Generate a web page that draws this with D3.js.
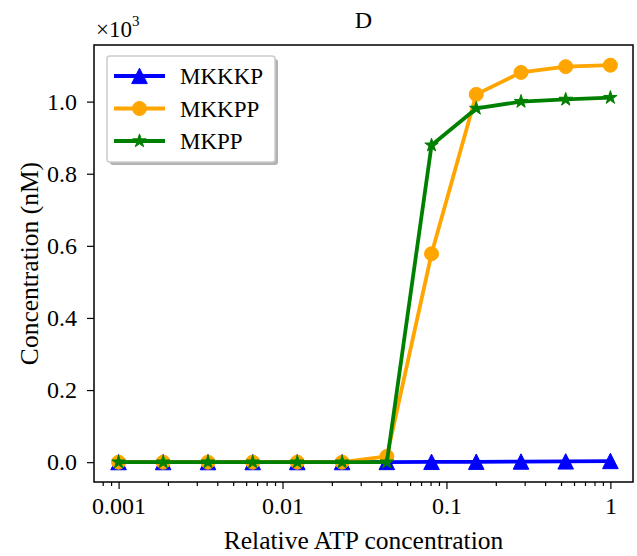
<!DOCTYPE html>
<html>

<head>
    <meta charset="UTF-8">
    <title>D</title>
    <style>
        body {
            margin: 0;
            background: #fff;
        }

        svg,
        svg text {
            font-family: "Liberation Serif", "DejaVu Serif", "Noto Serif", "Times New Roman", serif;
            fill: #000;
        }

        .axis path {
            display: none;
        }

        .axis line {
            stroke: #000;
            stroke-width: 1.2px;
        }

        .axis text {
            font-size: 24px;
        }

        .line {
            fill: none;
            stroke-width: 3.8px;
            stroke-linejoin: round;
        }
    </style>
</head>

<body>
    <div class="chart"></div>

    <script src="https://cdn.jsdelivr.net/npm/d3@7"></script>

    <script>
        // relative ATP concentration (12 points, log spaced 0.001 .. 1)
        const atp = [0.001, 0.00187, 0.00351, 0.00658, 0.0123, 0.0231,
            0.0433, 0.0811, 0.152, 0.285, 0.534, 1
        ];

        // concentrations in nM
        const mkkkp = [0, 0, 0, 0, 0, 0, 0.3, 0.6, 1, 1.5, 2, 3];
        const mkkpp = [0, 0, 0, 0, 0, 0, 16, 578, 1020, 1081, 1097, 1101];
        const mkpp = [0, 0, 0, 0, 0, 0, 0, 879, 981, 1000, 1006, 1011];

        const xTicks = [0.001, 0.01, 0.1, 1];
        const xTickLabels = ['0.001', '0.01', '0.1', '1'];
        const yTicks = [0, 200, 400, 600, 800, 1000];

        const series = [
            { name: 'MKKKP', values: mkkkp, color: '#0000ff', marker: 'triangle' },
            { name: 'MKKPP', values: mkkpp, color: '#ffa500', marker: 'circle' },
            { name: 'MKPP', values: mkpp, color: '#008000', marker: 'star' }
        ];

        const W = 637, H = 556;
        const margin = { top: 45, right: 4, bottom: 74, left: 94 };
        const width = W - margin.left - margin.right;
        const height = H - margin.top - margin.bottom;

        const svg = d3.select('.chart')
            .append('svg')
            .attr('width', W)
            .attr('height', H);

        const g = svg.append('g')
            .attr('transform', `translate(${ margin.left },${ margin.top })`);

        const x = d3.scaleLog()
            .domain([Math.pow(10, -3.15), Math.pow(10, 0.138)])
            .range([0, width]);

        const y = d3.scaleLinear()
            .domain([-55, 1157])
            .range([height, 0]);

        // minor ticks on x
        const minor = [];
        for (let e = -4; e <= 0; e++) {
            for (let k = 2; k <= 9; k++) {
                const v = k * Math.pow(10, e);
                if (v > x.domain()[0] && v < x.domain()[1]) minor.push(v);
            }
        }

        g.append('g')
            .attr('class', 'axis')
            .attr('transform', `translate(0,${ height })`)
            .call(d3.axisBottom(x).tickValues(minor).tickSize(4).tickFormat(''));

        g.append('g')
            .attr('class', 'axis x-axis')
            .attr('transform', `translate(0,${ height })`)
            .call(d3.axisBottom(x)
                .tickValues(xTicks)
                .tickSize(7)
                .tickPadding(8)
                .tickFormat((d, i) => xTickLabels[i]));

        g.append('g')
            .attr('class', 'axis y-axis')
            .call(d3.axisLeft(y)
                .tickValues(yTicks)
                .tickSize(7)
                .tickPadding(10)
                .tickFormat(d => (d / 1000).toFixed(1)));

        // lines + markers
        const line = d3.line()
            .x((d, i) => x(atp[i]))
            .y(d => y(d));

        const tri = 'M0,-7.8L7.8,7.6L-7.8,7.6Z';
        const circle = d3.symbol().type(d3.symbolCircle).size(Math.PI * 7 * 7)();
        const star = d3.symbol().type(d3.symbolStar).size(56)();
        const markerPath = { triangle: tri, circle: circle, star: star };

        const plot = g.append('g');

        series.forEach(s => {
            plot.append('path')
                .attr('class', 'line')
                .attr('d', line(s.values))
                .style('stroke', s.color);

            plot.selectAll(null)
                .data(s.values)
                .enter()
                .append('path')
                .attr('d', markerPath[s.marker])
                .attr('transform', (d, i) => `translate(${ x(atp[i]) },${ y(d) })`)
                .style('fill', s.color)
                .style('stroke', s.color)
                .style('stroke-width', 1);
        });

        // frame
        g.append('rect')
            .attr('width', width)
            .attr('height', height)
            .style('fill', 'none')
            .style('stroke', '#000')
            .style('stroke-width', 1.5);

        // legend
        const legend = g.append('g')
            .attr('transform', 'translate(13,11)');

        legend.append('rect')
            .attr('x', 3)
            .attr('y', 3)
            .attr('width', 168)
            .attr('height', 106)
            .attr('rx', 3)
            .style('fill', '#7f7f7f')
            .style('opacity', 0.6);

        legend.append('rect')
            .attr('width', 168)
            .attr('height', 106)
            .attr('rx', 3)
            .style('fill', '#fff')
            .style('stroke', '#cccccc')
            .style('stroke-width', 1.5);

        series.forEach((s, i) => {
            const row = legend.append('g')
                .attr('transform', `translate(0,${ 20 + i * 32.5 })`);
            row.append('line')
                .attr('x1', 7)
                .attr('x2', 58)
                .style('stroke', s.color)
                .style('stroke-width', 3.8);
            row.append('path')
                .attr('d', markerPath[s.marker])
                .attr('transform', 'translate(32.5,0)')
                .style('fill', s.color)
                .style('stroke', s.color);
            row.append('text')
                .attr('x', 73)
                .attr('dy', '0.35em')
                .style('font-size', '23px')
                .text(s.name);
        });

        // labels
        svg.append('text')
            .attr('x', margin.left + width / 2)
            .attr('y', 549)
            .attr('text-anchor', 'middle')
            .style('font-size', '25.5px')
            .text('Relative ATP concentration');

        svg.append('text')
            .attr('transform', `translate(38,${ margin.top + height / 2 }) rotate(-90)`)
            .attr('text-anchor', 'middle')
            .style('font-size', '25.5px')
            .text('Concentration (nM)');

        svg.append('text')
            .attr('x', margin.left + width / 2)
            .attr('y', 28)
            .attr('text-anchor', 'middle')
            .style('font-size', '24px')
            .text('D');

        const mult = svg.append('text')
            .attr('x', 96)
            .attr('y', 37)
            .style('font-size', '23px');
        mult.append('tspan').text('×10');
        mult.append('tspan')
            .attr('dy', -11)
            .style('font-size', '15px')
            .text('3');
    </script>
</body>

</html>
